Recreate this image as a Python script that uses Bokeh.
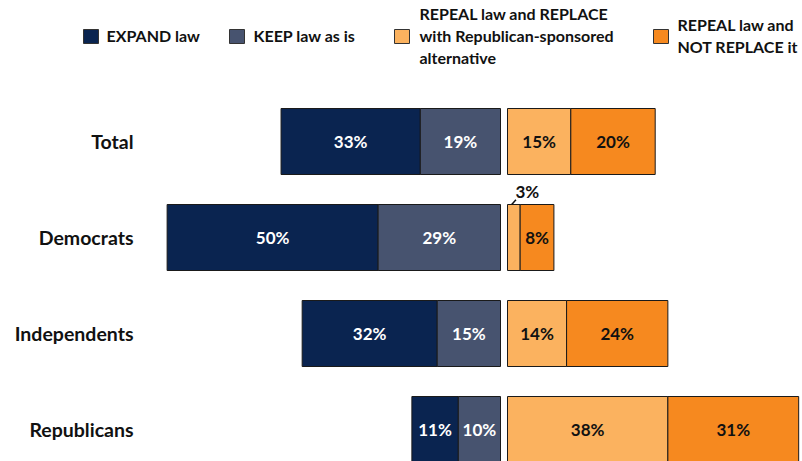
from bokeh.plotting import figure
from bokeh.models import Range1d, ColumnDataSource
from bokeh.embed import file_html
from bokeh.resources import INLINE
from bokeh.core.properties import value

# ---------------- data ----------------
categories = ["Total", "Democrats", "Independents", "Republicans"]
expand = [33, 50, 32, 11]
keep = [19, 29, 15, 10]
repeal_replace = [15, 3, 14, 38]
repeal_only = [20, 8, 24, 31]
series_labels = [
    "EXPAND law",
    "KEEP law as is",
    "REPEAL law and REPLACE\nwith Republican-sponsored\nalternative",
    "REPEAL law and\nNOT REPLACE it",
]
colors = ["#0a2450", "#47536f", "#fbb25f", "#f6891f"]

# ---------------- layout ----------------
W, H = 802, 461
PX_PER = 4.22          # pixels per percentage point
ZERO_PX = 500          # x of the divide
GAP = 7 / PX_PER       # gap between left and right stacks
ROW_PX = 96.0
ROW0_PX = 141.0        # y of first row centre
BAR_H = 66 / ROW_PX
FONT = value("Lato")

x_range = Range1d(-ZERO_PX / PX_PER, (W - ZERO_PX) / PX_PER)
y_range = Range1d((H - ROW0_PX) / ROW_PX, (0 - ROW0_PX) / ROW_PX)

p = figure(width=W, height=H, x_range=x_range, y_range=y_range,
           output_backend="svg", toolbar_location=None, min_border=0,
           x_axis_location=None, y_axis_location=None)
p.extra_x_ranges = {"px": Range1d(0, W)}
p.extra_y_ranges = {"py": Range1d(H, 0)}
p.grid.visible = False
p.outline_line_color = None
p.background_fill_color = "white"
p.border_fill_color = "white"

ys = list(range(len(categories)))

left_e = [-(e + k) for e, k in zip(expand, keep)]
right_e = [-k for k in keep]
left_k = [-k for k in keep]
right_k = [0] * len(keep)
left_r = [GAP] * len(repeal_replace)
right_r = [GAP + r for r in repeal_replace]
left_n = right_r
right_n = [GAP + r + n for r, n in zip(repeal_replace, repeal_only)]

series = [
    (left_e, right_e, expand, "white"),
    (left_k, right_k, keep, "white"),
    (left_r, right_r, repeal_replace, "#111111"),
    (left_n, right_n, repeal_only, "#111111"),
]

for (lft, rgt, vals, tcol), col in zip(series, colors):
    src = ColumnDataSource(dict(
        left=lft, right=rgt,
        top=[y - BAR_H / 2 for y in ys], bottom=[y + BAR_H / 2 for y in ys],
    ))
    p.quad(left="left", right="right", top="top", bottom="bottom", source=src,
           fill_color=col, line_color="#1a1a1a", line_width=1)
    inside = [(l + r) / 2 for l, r in zip(lft, rgt)]
    lab = ColumnDataSource(dict(
        x=[x for x, v in zip(inside, vals) if v >= 5],
        y=[y for y, v in zip(ys, vals) if v >= 5],
        t=[f"{v}%" for v in vals if v >= 5],
    ))
    p.text(x="x", y="y", text="t", source=lab, text_align="center",
           text_baseline="middle", text_font=FONT, text_font_style="bold",
           text_font_size="17px", text_color=tcol)
    # small values: label outside with a leader line
    small = [(l, r, y, v) for l, r, y, v in zip(lft, rgt, ys, vals) if v < 5]
    if small:
        sl = ColumnDataSource(dict(
            x0=[l + 1.0 for l, r, y, v in small],
            y0=[y - BAR_H / 2 for l, r, y, v in small],
            x1=[l + 2.0 for l, r, y, v in small],
            y1=[y - BAR_H / 2 - 0.05 for l, r, y, v in small],
            tx=[l + 4.7 for l, r, y, v in small],
            ty=[y - BAR_H / 2 - 0.14 for l, r, y, v in small],
            t=[f"{v}%" for l, r, y, v in small],
        ))
        p.segment(x0="x0", y0="y0", x1="x1", y1="y1", source=sl,
                  line_color="#111111", line_width=1.5)
        p.text(x="tx", y="ty", text="t", source=sl, text_align="center",
               text_baseline="middle", text_font=FONT, text_font_style="bold",
               text_font_size="17px", text_color="#111111")

# category labels
p.text(x=[133] * len(categories), y=ys, text=categories, x_range_name="px",
       text_align="right", text_baseline="middle", text_font=FONT,
       text_font_style="bold", text_font_size="19.5px", text_color="#111111")

# legend
leg_sq_x = [83, 229, 394, 653]
leg_tx_x = [106, 253, 419, 677]
leg_y = 36
p.quad(left=leg_sq_x, right=[x + 15 for x in leg_sq_x],
       top=[leg_y - 7] * 4, bottom=[leg_y + 7] * 4,
       fill_color=colors, line_color="#333333", line_width=1,
       x_range_name="px", y_range_name="py")
p.text(x=leg_tx_x, y=[leg_y - 1] * 4, text=series_labels,
       x_range_name="px", y_range_name="py",
       text_align="left", text_baseline="middle", text_font=FONT,
       text_font_style="bold", text_font_size="16px", text_color="#111111",
       text_line_height=1.15)

open("out.html", "w").write(file_html(p, INLINE))
